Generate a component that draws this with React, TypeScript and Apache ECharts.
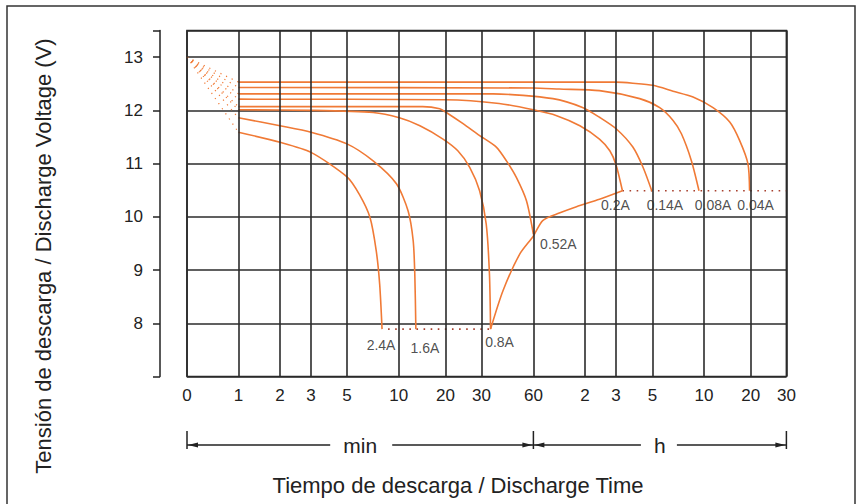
import React, { useEffect, useRef } from 'react';
import * as echarts from 'echarts';

// ---- axis definition (custom broken log scale: minutes, then hours) ----
const tickLabels = ['0', '1', '2', '3', '5', '10', '20', '30', '60', '2', '3', '5', '10', '20', '30'];
const tickMinutes = [0, 1, 2, 3, 5, 10, 20, 30, 60, 120, 180, 300, 600, 1200, 1800];
const tickPos = [0, 51.4, 93, 124, 160, 211.7, 258.4, 294.4, 346.4, 398, 429, 465.4, 517, 563.7, 599.4];

const voltMin = 7;
const voltMax = 13.5;
const initialVoltage = 13.0;

// ---- discharge curves: [minutes, volts] ----
const curveNames = ['2.4A', '1.6A', '0.8A', '0.52A', '0.2A', '0.14A', '0.08A', '0.04A'];
const curve2_4A = [[1, 11.59], [2, 11.4], [3, 11.21], [5, 10.75], [5.9, 10.42], [6.8, 9.99], [7.4, 9.36], [7.75, 8.73], [8.0, 7.89]];
const curve1_6A = [[1, 11.86], [2, 11.71], [3, 11.59], [5, 11.37], [7.1, 11.05], [9.7, 10.62], [11.5, 10.11], [12.4, 9.55], [12.7, 8.92], [12.9, 7.89]];
const curve0_8A = [[1, 12.01], [3, 12.0], [7.1, 11.96], [10.1, 11.86], [13.7, 11.71], [19.3, 11.46], [23, 11.24], [26.3, 10.93], [29.4, 10.49], [32, 9.86], [33.4, 8.92], [33.9, 7.89]];
const curve0_52A = [[1, 12.07], [5, 12.07], [14.3, 12.07], [18.4, 12.03], [20.2, 11.96], [24.4, 11.75], [29.3, 11.53], [36.6, 11.31], [41.9, 11.05], [47.8, 10.74], [54.7, 10.3], [60, 9.67]];
const curve0_2A = [[1, 12.21], [20, 12.2], [38, 12.13], [60, 12.01], [82, 11.9], [112, 11.71], [145, 11.46], [166, 11.24], [180, 10.98], [197, 10.49]];
const curve0_14A = [[1, 12.31], [35, 12.31], [78, 12.22], [117, 12.05], [145, 11.87], [181, 11.65], [228, 11.31], [263, 10.93], [298, 10.48]];
const curve0_08A = [[1, 12.43], [60, 12.42], [85, 12.4], [145, 12.37], [251, 12.22], [331, 12.05], [396, 11.81], [443, 11.56], [507, 11.05], [561, 10.49]];
const curve0_04A = [[1, 12.53], [180, 12.53], [228, 12.51], [302, 12.47], [396, 12.36], [518, 12.25], [686, 12.05], [879, 11.78], [1019, 11.43], [1153, 10.99], [1180, 10.49]];
const curves = [curve2_4A, curve1_6A, curve0_8A, curve0_52A, curve0_2A, curve0_14A, curve0_08A, curve0_04A];

// final discharge voltage line (between 0.8A end and 0.2A end)
const cutoffCurve = [[33.9, 7.89], [40, 8.61], [50, 9.3], [60, 9.64], [68, 9.93], [85, 10.07], [107, 10.19], [145, 10.33], [197, 10.49]];

const FONT = "'Liberation Sans', Arial, sans-serif";
const ORANGE = '#f07a36';
const GRID = '#2b2b2b';
const TEXT = '#222222';
const DOT_RED = '#a8402e';

function toU(m: number): number {
  if (m <= tickMinutes[1]) return (m / tickMinutes[1]) * tickPos[1];
  for (let i = 1; i < tickMinutes.length - 1; i++) {
    const a = tickMinutes[i];
    const b = tickMinutes[i + 1];
    if (m <= b) return tickPos[i] + ((tickPos[i + 1] - tickPos[i]) * Math.log(m / a)) / Math.log(b / a);
  }
  return tickPos[tickPos.length - 1];
}

const labelOffsets: number[][] = [[-1, 16], [9, 19], [9, 13], [25, 10], [-7, 14], [13, 14], [14, 14], [6, 14]];

export default function App() {
  const ref = useRef<HTMLDivElement>(null);
  useEffect(() => {
    if (!ref.current) return;
    const chart = echarts.init(ref.current, undefined, { renderer: 'svg' });
    const series: any[] = [];

    series.push({
      type: 'line',
      data: [],
      silent: true,
      z: 1,
      markLine: {
        silent: true,
        symbol: ['none', 'none'],
        label: { show: false },
        emphasis: { disabled: true },
        lineStyle: { color: GRID, width: 1.6, type: 'solid' },
        data: tickPos.map((u) => ({ xAxis: u })),
      },
    });

    curves.forEach((c) => {
      series.push({
        type: 'line',
        data: c.map(([m, v]) => [toU(m), v]),
        showSymbol: false,
        smooth: 0.25,
        silent: true,
        z: 3,
        lineStyle: { color: ORANGE, width: 1.6 },
      });
      series.push({
        type: 'line',
        data: [[toU(0), initialVoltage], [toU(c[0][0]), c[0][1]]],
        showSymbol: false,
        silent: true,
        z: 3,
        lineStyle: { color: ORANGE, width: 1.2, type: [1.2, 5] },
      });
    });

    series.push({
      type: 'line',
      data: cutoffCurve.map(([m, v]) => [toU(m), v]),
      showSymbol: false,
      smooth: 0.25,
      silent: true,
      z: 3,
      lineStyle: { color: ORANGE, width: 1.6 },
    });

    const e24 = curve2_4A[curve2_4A.length - 1];
    const e08 = curve0_8A[curve0_8A.length - 1];
    const e02 = curve0_2A[curve0_2A.length - 1];
    series.push({
      type: 'line',
      data: [[toU(e24[0]) + 6, e24[1]], [toU(e08[0]), e08[1]]],
      showSymbol: false,
      silent: true,
      z: 2,
      lineStyle: { color: DOT_RED, width: 1.6, type: [1.6, 5.5] },
    });
    series.push({
      type: 'line',
      data: [[toU(e02[0]), e02[1]], [toU(tickMinutes[tickMinutes.length - 1]), e02[1]]],
      showSymbol: false,
      silent: true,
      z: 2,
      lineStyle: { color: DOT_RED, width: 1.6, type: [1.6, 5.5] },
    });

    series.push({
      type: 'scatter',
      symbolSize: 0,
      silent: true,
      z: 4,
      data: curves.map((c, i) => {
        const last = c[c.length - 1];
        return {
          value: [toU(last[0]), last[1]],
          label: {
            show: true,
            position: 'inside',
            offset: labelOffsets[i],
            formatter: curveNames[i],
            fontSize: 14,
            fontFamily: FONT,
            color: TEXT,
          },
        };
      }),
    });

    const closestLabel = (v: number) => {
      let best = 0;
      for (let i = 1; i < tickPos.length; i++) {
        if (Math.abs(tickPos[i] - v) < Math.abs(tickPos[best] - v)) best = i;
      }
      return tickLabels[best];
    };

    chart.setOption({
      animation: false,
      grid: {
        left: 187,
        right: 862 - 187 - tickPos[tickPos.length - 1],
        top: 30.5,
        bottom: 127.5,
        show: true,
        borderColor: GRID,
        borderWidth: 1.6,
        backgroundColor: 'transparent',
      },
      xAxis: {
        type: 'value',
        min: 0,
        max: tickPos[tickPos.length - 1],
        axisLine: { show: false, onZero: false },
        axisTick: { show: false },
        splitLine: { show: false },
        axisLabel: {
          customValues: tickPos,
          formatter: (v: number) => closestLabel(v),
          margin: 10,
          fontSize: 17,
          fontFamily: FONT,
          color: TEXT,
        },
      },
      yAxis: {
        type: 'value',
        min: voltMin,
        max: voltMax,
        interval: 1,
        offset: 27,
        axisLine: { show: true, onZero: false, lineStyle: { color: TEXT, width: 1.5 } },
        axisTick: { show: true, length: 7, lineStyle: { color: TEXT, width: 1.5 } },
        axisLabel: {
          margin: 17,
          fontSize: 17,
          fontFamily: FONT,
          color: TEXT,
          formatter: (v: number) => (v === voltMin || v === voltMax ? '' : String(v)),
        },
        splitLine: { show: true, lineStyle: { color: GRID, width: 1.6 } },
      },
      series,
    });

    const px = (u: number) => chart.convertToPixel({ xAxisIndex: 0 }, u) as unknown as number;
    const x0 = px(tickPos[0]);
    const x1 = px(tickPos[8]);
    const x2 = px(tickPos[tickPos.length - 1]);
    const ay = 445;
    const midMin = (x0 + x1) / 2;
    const midH = (x1 + x2) / 2;
    const lineStyle = { stroke: TEXT, lineWidth: 1.3 };
    const seg = (a: number, b: number) => ({ type: 'line', silent: true, shape: { x1: a, y1: ay, x2: b, y2: ay }, style: lineStyle });
    const bar = (x: number) => ({ type: 'line', silent: true, shape: { x1: x, y1: 431, x2: x, y2: 449 }, style: { stroke: TEXT, lineWidth: 1.5 } });
    const headL = (x: number) => ({ type: 'polygon', silent: true, shape: { points: [[x + 1, ay], [x + 11, ay - 2.5], [x + 11, ay + 2.5]] }, style: { fill: TEXT } });
    const headR = (x: number) => ({ type: 'polygon', silent: true, shape: { points: [[x - 1, ay], [x - 11, ay - 2.5], [x - 11, ay + 2.5]] }, style: { fill: TEXT } });

    chart.setOption({
      graphic: [
        { type: 'rect', silent: true, shape: { x: 7, y: 6, width: 848, height: 530 }, style: { fill: 'none', stroke: '#333', lineWidth: 1.5 } },
        bar(x0), bar(x1), bar(x2),
        seg(x0, midMin - 30), seg(midMin + 32, x1), headL(x0), headR(x1),
        seg(x1, midH - 19), seg(midH + 17, x2), headL(x1), headR(x2),
        { type: 'text', silent: true, x: midMin, y: ay, style: { text: 'min', fontSize: 21, fontFamily: FONT, fill: TEXT, align: 'center', verticalAlign: 'middle' } },
        { type: 'text', silent: true, x: midH, y: ay, style: { text: 'h', fontSize: 21, fontFamily: FONT, fill: TEXT, align: 'center', verticalAlign: 'middle' } },
        { type: 'text', silent: true, x: 458, y: 485, style: { text: 'Tiempo de descarga / Discharge Time', fontSize: 22, fontFamily: FONT, fill: TEXT, align: 'center', verticalAlign: 'middle' } },
        { type: 'text', silent: true, x: 43, y: 256, rotation: Math.PI / 2, style: { text: 'Tensión de descarga / Discharge Voltage (V)', fontSize: 22, fontFamily: FONT, fill: TEXT, align: 'center', verticalAlign: 'middle' } },
      ],
    });

    return () => chart.dispose();
  }, []);
  return <div ref={ref} style={{ position: 'fixed', left: 0, top: 0, width: 862, height: 504, background: '#fff' }} />;
}
